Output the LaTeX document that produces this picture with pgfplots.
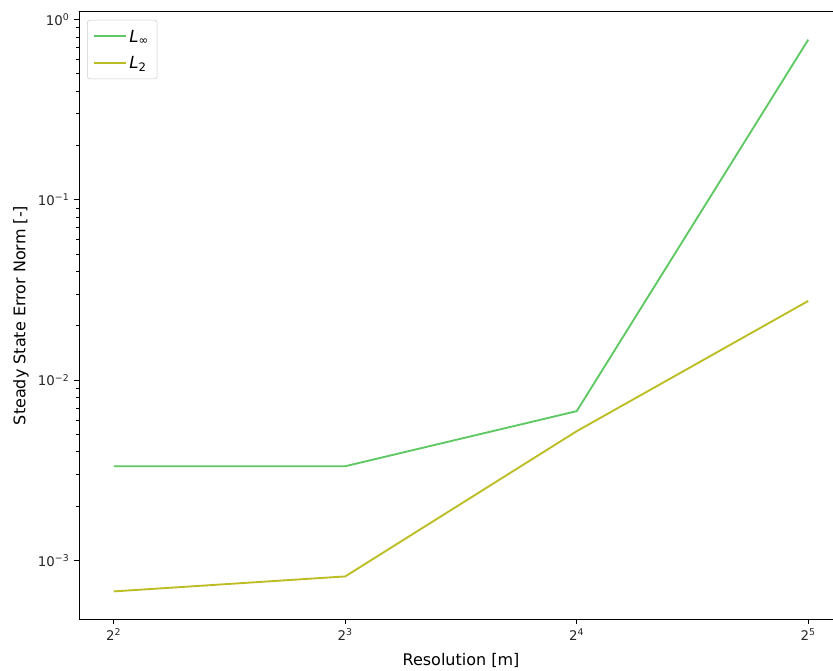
\documentclass[border=0pt]{standalone}
\usepackage{fontspec}
\setmainfont{DejaVu Sans}
\usepackage{pgfplots}
\pgfplotsset{compat=1.18}
\definecolor{cinf}{HTML}{5EC962}
\definecolor{ctwo}{HTML}{BCBD22}
\begin{document}
\begin{tikzpicture}
\path[use as bounding box, clip] (-59.25pt,-39pt) rectangle (565.5pt,464.25pt);
\begin{axis}[
  scale only axis,
  width=573pt, height=455.25pt,
  xmode=log, log basis x=2,
  ymode=log,
  xmin=3.605, xmax=35.51,
  ymin=4.73e-4, ymax=1.102,
  xtick={4,8,16,32},
  xticklabels={2\textsuperscript{2},2\textsuperscript{3},2\textsuperscript{4},2\textsuperscript{5}},
  ytick={1e-3,1e-2,1e-1,1},
  yticklabels={10\textsuperscript{−3},10\textsuperscript{−2},10\textsuperscript{−1},10\textsuperscript{0}},
  xminorticks=false,
  tick pos=left,
  tick align=outside,
  major tick length=3.7pt,
  minor tick length=2.1pt,
  every tick/.style={black, line width=0.6pt},
  axis line style={line width=0.75pt},
  tick label style={font=\fontsize{10}{12}\selectfont, color=black!85},
  xlabel={Resolution [m]},
  ylabel={Steady State Error Norm [-]},
  label style={font=\fontsize{12}{14}\selectfont},
  xlabel style={yshift=-3pt},
  ylabel style={yshift=0pt},
  legend style={at={(0.0105,0.987)}, anchor=north west, draw=black!20, rounded corners=2pt, font=\fontsize{12.5}{15}\selectfont, row sep=4pt, inner xsep=4pt, inner ysep=4pt},
  legend cell align=left,
  legend image code/.code={\draw[#1] (0cm,0cm) -- (0.85cm,0cm);},
]
\addplot[cinf, line width=1.4pt] coordinates {(4,3.33e-3) (8,3.33e-3) (16,6.73e-3) (32,0.774)};
\addlegendentry{\strut\textit{L}\textsubscript{∞}}
\addplot[ctwo, line width=1.4pt] coordinates {(4,6.73e-4) (8,8.15e-4) (16,5.21e-3) (32,0.0275)};
\addlegendentry{\strut\textit{L}\textsubscript{2}}
\end{axis}
\end{tikzpicture}
\end{document}
